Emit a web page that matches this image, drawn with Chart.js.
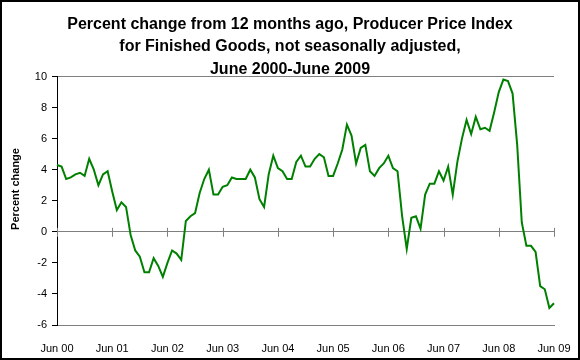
<!DOCTYPE html>
<html>
<head>
<meta charset="utf-8">
<script src="https://cdn.jsdelivr.net/npm/chart.js@4"></script>
<style>
  html, body { margin: 0; padding: 0; background: #fff; }
  #wrap { width: 580px; height: 360px; }
</style>
</head>
<body>
<div id="wrap"><canvas id="pppChart" width="580" height="360"></canvas></div>
<script>
const titleLines = [
    'Percent change from 12 months ago, Producer Price Index',
    'for Finished Goods, not seasonally adjusted,',
    'June 2000-June 2009'
];
const yAxisTitle = 'Percent change';
const monthNames = ['Jan', 'Feb', 'Mar', 'Apr', 'May', 'Jun', 'Jul', 'Aug', 'Sep', 'Oct', 'Nov', 'Dec'];
const yearTicks = ['Jun 00', 'Jun 01', 'Jun 02', 'Jun 03', 'Jun 04', 'Jun 05', 'Jun 06', 'Jun 07', 'Jun 08', 'Jun 09'];

// 12-month percent change, June 2000 .. June 2009
const pctChange = [
    4.3, 4.2, 3.4, 3.5, 3.7, 3.8, 3.6, 4.7, 4.0, 3.0, 3.7, 3.9,
    2.6, 1.4, 1.9, 1.6, -0.2, -1.2, -1.6, -2.6, -2.6, -1.7, -2.2, -2.9,
    -2.0, -1.2, -1.4, -1.8, 0.7, 1.0, 1.2, 2.5, 3.4, 4.0, 2.4, 2.4,
    2.9, 3.0, 3.5, 3.4, 3.4, 3.4, 4.0, 3.5, 2.1, 1.6, 3.7, 4.9,
    4.1, 3.9, 3.4, 3.4, 4.5, 4.9, 4.2, 4.2, 4.7, 5.0, 4.8, 3.6,
    3.6, 4.4, 5.3, 6.9, 6.2, 4.4, 5.4, 5.6, 3.9, 3.6, 4.1, 4.4,
    4.9, 4.1, 3.9, 1.0, -1.1, 0.9, 1.0, 0.2, 2.4, 3.1, 3.1, 3.9,
    3.3, 4.2, 2.4, 4.5, 6.0, 7.2, 6.3, 7.4, 6.6, 6.7, 6.5, 7.7,
    9.0, 9.8, 9.7, 8.9, 5.6, 0.6, -0.9, -0.9, -1.3, -3.5, -3.7, -4.9,
    -4.6
];

const months = pctChange.map((v, i) => {
    const m = (5 + i) % 12;
    const yr = Math.floor((5 + i) / 12);
    return monthNames[m] + ' ' + String(yr).padStart(2, '0');
});

const FONT = '"Liberation Sans", Arial, sans-serif';
const GRAY = '#808080';
const NONE = 'rgba(0,0,0,0)';

const framePlugin = {
    id: 'frame',
    beforeDraw(chart) {
        const ctx = chart.ctx;
        ctx.save();
        ctx.fillStyle = '#fff';
        ctx.fillRect(0, 0, chart.width, chart.height);
        ctx.restore();
    },
    beforeDatasetsDraw(chart) {
        // year ticks across the zero line
        const ctx = chart.ctx;
        const x = chart.scales.x;
        const y0 = chart.scales.y.getPixelForValue(0);
        ctx.save();
        ctx.strokeStyle = GRAY;
        ctx.lineWidth = 1;
        ctx.beginPath();
        for (let i = 0; i < months.length; i += 12) {
            const px = Math.round(x.getPixelForValue(i)) + 0.5;
            ctx.moveTo(px, y0 - 4);
            ctx.lineTo(px, y0 + 5);
        }
        ctx.stroke();
        ctx.restore();
    },
    afterDraw(chart) {
        const ctx = chart.ctx;
        ctx.save();
        ctx.font = 'bold 11px ' + FONT;
        ctx.fillStyle = '#000';
        ctx.textAlign = 'center';
        ctx.textBaseline = 'middle';
        ctx.translate(16, 189);
        ctx.rotate(-Math.PI / 2);
        ctx.fillText(yAxisTitle, 0, 0);
        ctx.restore();

        ctx.save();
        ctx.strokeStyle = '#000';
        ctx.lineWidth = 2;
        ctx.strokeRect(1, 1, chart.width - 2, chart.height - 2);
        ctx.restore();
    }
};

const ctx = document.getElementById('pppChart').getContext('2d');
new Chart(ctx, {
    type: 'line',
    data: {
        labels: months,
        datasets: [{
            label: 'Percent change',
            data: pctChange,
            borderColor: '#008000',
            borderWidth: 2,
            pointRadius: 0,
            tension: 0,
            fill: false
        }]
    },
    options: {
        responsive: false,
        animation: false,
        layout: { padding: 0 },
        plugins: {
            legend: { display: false },
            tooltip: { enabled: false },
            title: {
                display: true,
                text: titleLines,
                color: '#000',
                font: { family: FONT, size: 16, weight: 'bold', lineHeight: '22.5px' },
                padding: { top: 13, bottom: -4 }
            }
        },
        scales: {
            x: {
                type: 'category',
                offset: false,
                border: { display: true, color: GRAY, width: 1 },
                grid: {
                    drawTicks: true,
                    tickLength: 17,
                    tickColor: NONE,
                    drawOnChartArea: true,
                    color: c => (c.index === months.length - 1 ? GRAY : NONE)
                },
                ticks: {
                    autoSkip: false,
                    maxRotation: 0,
                    minRotation: 0,
                    padding: 0,
                    color: '#000',
                    font: { family: FONT, size: 11 },
                    callback: (v, i) => (i % 12 === 0 ? yearTicks[i / 12] : null)
                },
                afterFit: s => { s.height = 35; s.paddingRight = 26; }
            },
            y: {
                min: -6,
                max: 10,
                border: { display: true, color: '#000', width: 1 },
                grid: {
                    drawTicks: true,
                    tickLength: 5,
                    tickColor: '#000',
                    color: c => ([10, 0, -6].includes(c.tick.value) ? GRAY : NONE)
                },
                ticks: {
                    stepSize: 2,
                    padding: 5,
                    color: '#000',
                    font: { family: FONT, size: 11 }
                },
                afterFit: s => { s.width = 57; }
            }
        }
    },
    plugins: [framePlugin]
});
</script>
</body>
</html>
